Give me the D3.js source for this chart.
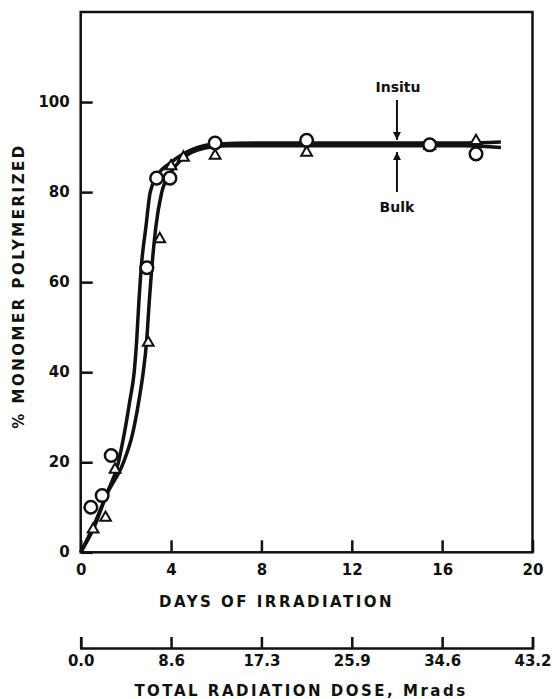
<!DOCTYPE html>
<html>
<head>
<meta charset="utf-8">
<script src="https://cdn.jsdelivr.net/npm/d3@7"></script>
<style>
  body { margin: 0; background: #fff; }
  text { font-family: "DejaVu Sans", sans-serif; font-weight: bold; fill: #111; }
</style>
</head>
<body>
<svg width="557" height="699"></svg>
<script>
// data
const circleDays = [0.45, 0.95, 1.35, 2.93, 3.36, 3.95, 5.95, 10.0, 15.45, 17.5];
const circleVals = [10, 12.6, 21.5, 63.2, 83.1, 83.1, 90.9, 91.5, 90.5, 88.5];

const triDays = [0.55, 1.1, 1.52, 2.99, 3.5, 4.0, 4.55, 5.95, 10.0, 15.45, 17.5];
const triVals = [5.3, 7.9, 18.6, 46.8, 69.8, 86.0, 87.9, 88.3, 89.0, 90.5, 91.6];

// drawn-in curves (hand fitted in the original)
const fitLeftDays = [0, 0.6, 1.15, 1.66, 1.93, 2.18, 2.37, 2.47, 2.58, 2.67, 2.89, 3.07, 3.36, 4.0, 5.0, 6.0, 8.0, 17.0, 18.6];
const fitLeftVals = [0, 6.2, 13, 19.8, 26.4, 33.8, 40.1, 46.4, 56, 62.7, 72.4, 79.8, 83.4, 86.6, 89.6, 90.7, 90.9, 90.9, 91.1];
const fitRightDays = [0, 0.6, 1.15, 1.88, 2.3, 2.58, 2.77, 2.91, 3.04, 3.14, 3.33, 3.58, 3.95, 4.5, 5.5, 6.5, 8.0, 17.0, 18.6];
const fitRightVals = [0, 5.6, 12.8, 19.8, 26.4, 33.8, 40.1, 46.4, 56, 62.7, 72.4, 79.8, 84.0, 87.4, 89.8, 90.3, 90.3, 90.3, 89.9];

const dayTicks = [0, 4, 8, 12, 16, 20];
const pctTicks = [0, 20, 40, 60, 80, 100];
const doseTicks = [0, 8.64, 17.28, 25.92, 34.56, 43.2];
const doseLabels = ['0.0', '8.6', '17.3', '25.9', '34.6', '43.2'];

const svg = d3.select('svg');

const plotL = 80.7, plotR = 532.5, plotT = 12, plotB = 552.3;

const x = d3.scaleLinear().domain([0, 20]).range([plotL, plotR]);
const y = d3.scaleLinear().domain([0, 120]).range([plotB, plotT]);
const dose = d3.scaleLinear().domain([0, 43.2]).range([plotL, plotR]);

// frame
svg.append('rect')
    .attr('x', plotL).attr('y', plotT)
    .attr('width', plotR - plotL).attr('height', plotB - plotT)
    .attr('fill', 'none').attr('stroke', '#111').attr('stroke-width', 2.5);

// days axis
const xAxis = svg.append('g')
    .attr('transform', `translate(0, ${plotB})`)
    .call(d3.axisBottom(x).tickValues(dayTicks).tickSize(-12).tickPadding(14).tickFormat(d3.format('d')));
xAxis.select('.domain').remove();
xAxis.selectAll('line').attr('stroke', '#111').attr('stroke-width', 2.5);
xAxis.selectAll('text').attr('font-size', 15).attr('dy', '0.6em');

// percent axis
const yAxis = svg.append('g')
    .attr('transform', `translate(${plotL}, 0)`)
    .call(d3.axisLeft(y).tickValues(pctTicks).tickSize(-12).tickPadding(11).tickFormat(d3.format('d')));
yAxis.select('.domain').remove();
yAxis.selectAll('line').attr('stroke', '#111').attr('stroke-width', 2.5);
yAxis.selectAll('text').attr('font-size', 15).attr('dy', '0.3em');

// dose axis
const doseAxis = svg.append('g')
    .attr('transform', 'translate(0, 648)')
    .call(d3.axisBottom(dose).tickValues(doseTicks).tickSize(-11).tickSizeOuter(-11).tickPadding(7)
        .tickFormat((d, i) => doseLabels[i]));
doseAxis.select('.domain').attr('stroke', '#111').attr('stroke-width', 2.5).attr('fill', 'none');
doseAxis.selectAll('line').attr('stroke', '#111').attr('stroke-width', 2.5);
doseAxis.selectAll('text').attr('font-size', 15).attr('dy', '0.75em');

// axis titles
svg.append('text')
    .attr('x', (plotL + plotR) / 2 - 30).attr('y', 607)
    .attr('text-anchor', 'middle').attr('font-size', 15).attr('letter-spacing', 2.5)
    .text('DAYS OF IRRADIATION');

svg.append('text')
    .attr('x', 301).attr('y', 696)
    .attr('text-anchor', 'middle').attr('font-size', 15).attr('letter-spacing', 2.5)
    .text('TOTAL RADIATION DOSE, Mrads');

svg.append('text')
    .attr('transform', 'translate(24, 286) rotate(-90)')
    .attr('text-anchor', 'middle').attr('font-size', 15).attr('letter-spacing', 2.5)
    .text('% MONOMER POLYMERIZED');

// fitted curves
const line = d3.line()
    .x(d => x(d[0])).y(d => y(d[1]))
    .curve(d3.curveMonotoneX);

const fits = [
    d3.zip(fitLeftDays, fitLeftVals),
    d3.zip(fitRightDays, fitRightVals)
];
svg.selectAll('.fit')
    .data(fits)
    .join('path')
    .attr('class', 'fit')
    .attr('d', line)
    .attr('fill', 'none').attr('stroke', '#111').attr('stroke-width', 3.5);

// markers
svg.selectAll('.tri')
    .data(d3.zip(triDays, triVals))
    .join('path')
    .attr('class', 'tri')
    .attr('d', d3.symbol(d3.symbolTriangle, 50))
    .attr('transform', d => `translate(${x(d[0])}, ${y(d[1]) + 1})`)
    .attr('fill', '#fff').attr('stroke', '#111').attr('stroke-width', 2);

svg.selectAll('.circ')
    .data(d3.zip(circleDays, circleVals))
    .join('circle')
    .attr('class', 'circ')
    .attr('cx', d => x(d[0])).attr('cy', d => y(d[1]))
    .attr('r', 6.3)
    .attr('fill', '#fff').attr('stroke', '#111').attr('stroke-width', 2.5);

// annotations
const arrowX = x(14);
svg.append('defs').append('marker')
    .attr('id', 'head')
    .attr('viewBox', '0 0 10 10')
    .attr('refX', 10).attr('refY', 5)
    .attr('markerWidth', 8).attr('markerHeight', 8)
    .attr('markerUnits', 'userSpaceOnUse')
    .attr('orient', 'auto')
    .append('path').attr('d', 'M0,0 L10,5 L0,10 Z').attr('fill', '#111');

svg.append('line')
    .attr('x1', arrowX).attr('x2', arrowX).attr('y1', 100).attr('y2', 140)
    .attr('stroke', '#111').attr('stroke-width', 2).attr('marker-end', 'url(#head)');
svg.append('line')
    .attr('x1', arrowX).attr('x2', arrowX).attr('y1', 192).attr('y2', 152)
    .attr('stroke', '#111').attr('stroke-width', 2).attr('marker-end', 'url(#head)');

svg.append('text')
    .attr('x', arrowX + 1).attr('y', 92)
    .attr('text-anchor', 'middle').attr('font-size', 14)
    .text('Insitu');
svg.append('text')
    .attr('x', arrowX).attr('y', 212)
    .attr('text-anchor', 'middle').attr('font-size', 14)
    .text('Bulk');
</script>
</body>
</html>
